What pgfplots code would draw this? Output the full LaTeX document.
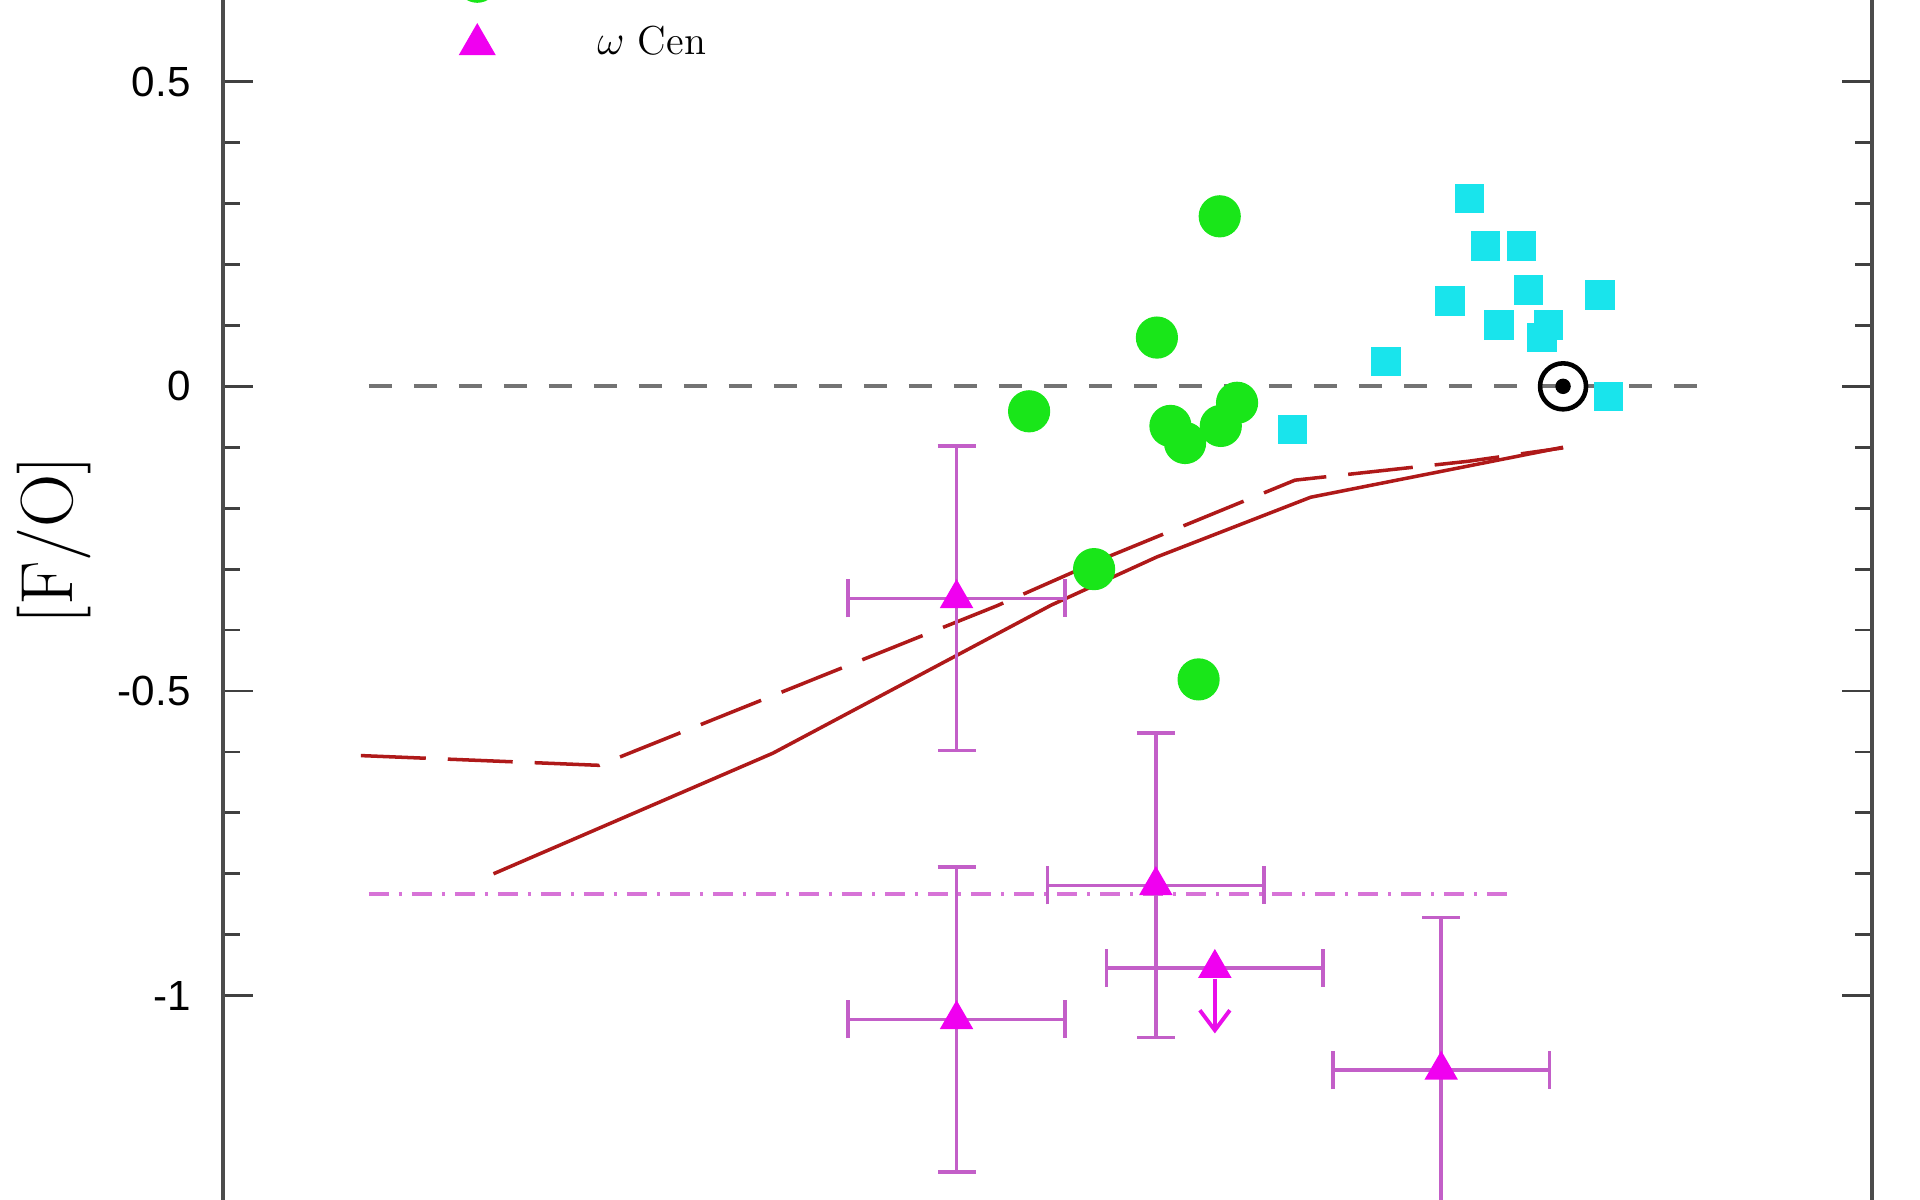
\documentclass[border=0pt]{standalone}
\usepackage{fontspec}
\usepackage{pgfplots}
\pgfplotsset{compat=1.18}
\usepackage{pgfplotstable}
\usetikzlibrary{arrows.meta}
\newfontfamily\ticksans{Liberation Sans}

\definecolor{ptgreen}{RGB}{25,230,25}
\definecolor{ptcyan}{RGB}{25,228,236}
\definecolor{ptmag}{RGB}{240,0,240}
\definecolor{errmag}{RGB}{195,95,200}
\definecolor{dashmag}{RGB}{215,115,215}
\definecolor{model}{RGB}{175,25,25}

% field stars, green circles
\pgfplotstableread{
x y
-0.634 0.279
-0.750 0.080
-0.986 -0.041
-0.725 -0.065
-0.698 -0.093
-0.632 -0.065
-0.602 -0.027
-0.866 -0.300
-0.673 -0.481
}\greendata

% cyan squares
\pgfplotstableread{
x y
-0.173 0.308
-0.143 0.230
-0.077 0.230
-0.209 0.140
-0.064 0.158
0.068 0.150
-0.118 0.101
-0.027 0.101
-0.039 0.080
-0.327 0.041
-0.500 -0.071
0.084 -0.017
}\cyandata

% omega Cen with errors
\pgfplotstableread{
x y ex ey
-1.120 -0.348 0.2 0.25
-0.752 -0.819 0.2 0.25
-1.120 -1.039 0.2 0.25
-0.225 -1.122 0.2 0.25
}\omegadata

\begin{document}
\begin{tikzpicture}
\begin{axis}[
  scale only axis,
  width=16.489cm, height=14.014cm,
  xmin=-2.4745, xmax=0.5705,
  ymin=-1.5, ymax=0.8,
  xtick=\empty,
  ytick={-1,-0.5,0,0.5},
  yticklabels={-1,-0.5,0,0.5},
  minor y tick num=4,
  tick align=inside,
  major tick length=0.3cm,
  minor tick length=0.17cm,
  tick style={line width=0.8pt, black!75},
  axis line style={line width=1pt, black!70},
  yticklabel style={font=\ticksans\fontsize{12}{14}\selectfont, xshift=-0.2cm},
]

% models
\addplot[model, line width=1pt] coordinates {
  (-1.975,-0.800) (-1.459,-0.602) (-0.945,-0.359) (-0.750,-0.280) (-0.466,-0.182) (0,-0.100)
};
\addplot[model, line width=1pt, dash pattern=on 0.65cm off 0.22cm] coordinates {
  (-2.220,-0.606) (-1.780,-0.622) (-1.045,-0.360) (-0.841,-0.280) (-0.495,-0.154) (-0.320,-0.137) (-0.175,-0.123) (0,-0.101)
};

% omega Cen mean
\addplot[dashmag, line width=1pt, dash pattern=on 0.2cm off 0.1cm on 0.03cm off 0.1cm] coordinates {
  (-2.205,-0.833) (-0.086,-0.833)
};

% omega Cen stars
\addplot[only marks, mark=triangle*, mark size=5.1pt, color=ptmag,
  mark options={fill=ptmag, draw=ptmag},
  error bars/.cd, x dir=both, x explicit, y dir=both, y explicit,
  error bar style={line width=1pt, errmag},
  error mark options={rotate=90, errmag, line width=1pt, mark size=0.19cm}]
  table[x=x, y=y, x error=ex, y error=ey] {\omegadata};

% upper limit
\addplot[only marks, mark=triangle*, mark size=5.1pt, color=ptmag,
  mark options={fill=ptmag, draw=ptmag},
  error bars/.cd, x dir=both, x explicit,
  error bar style={line width=1pt, errmag},
  error mark options={rotate=90, errmag, line width=1pt, mark size=0.19cm}]
  coordinates {(-0.643,-0.955) +- (0.2,0)};
\addplot[ptmag!85!errmag, line width=1.1pt, -{Straight Barb[length=0.2cm, width=0.3cm, line width=1.1pt]}]
  coordinates {(-0.643,-0.972) (-0.643,-1.062)};

% green circles
\addplot[only marks, mark=*, mark size=5.8pt, color=ptgreen,
  mark options={fill=ptgreen, draw=ptgreen}] table {\greendata};

% cyan squares
\addplot[only marks, mark=square*, mark size=4pt, color=ptcyan,
  mark options={fill=ptcyan, draw=ptcyan}] table {\cyandata};

% solar reference
\addplot[black!55, line width=1.2pt, dash pattern=on 0.23cm off 0.22cm] coordinates {
  (-2.205,0) (0.27,0)
};
\addplot[only marks, mark=o, mark size=0.23cm, mark options={line width=1.3pt, draw=black, fill=white}]
  coordinates {(0,0)};
\addplot[only marks, mark=*, mark size=0.07cm, black] coordinates {(0,0)};

% legend
\addplot[only marks, mark=*, mark size=5.8pt, color=ptgreen,
  mark options={fill=ptgreen, draw=ptgreen}] coordinates {(-2.005,0.664)};
\addplot[only marks, mark=triangle*, mark size=5.7pt, color=ptmag,
  mark options={fill=ptmag, draw=ptmag}] coordinates {(-2.005,0.561)};

\coordinate (leg) at (axis cs:-1.806,0.568);
\coordinate (lab) at (axis cs:-2.4745,-0.252);
\coordinate (bl) at (axis cs:-2.4745,-1.335);
\coordinate (tr) at (axis cs:0.5705,0.634);
\end{axis}
\node[anchor=west, font=\fontsize{11.5}{14}\selectfont] at (leg) {$\omega$ Cen};
\node[rotate=90, font=\fontsize{21}{25}\selectfont] at ([xshift=-1.69cm]lab) {[F/O]};
\pgfresetboundingbox
\useasboundingbox ([xshift=-2.23cm]bl) rectangle ([xshift=0.48cm]tr);
\end{tikzpicture}
\end{document}
